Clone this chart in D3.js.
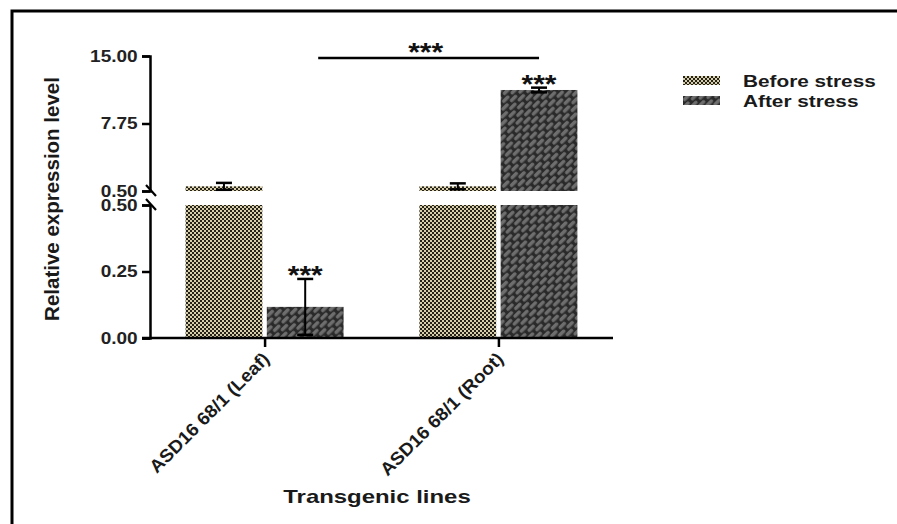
<!DOCTYPE html>
<html>
<head>
<meta charset="utf-8">
<script src="https://cdn.jsdelivr.net/npm/d3@7"></script>
<style>
  html, body { margin: 0; padding: 0; background: #fff; }
  svg { display: block; font-family: "Liberation Sans", Arial, sans-serif; font-weight: bold; }
</style>
</head>
<body>
<svg id="chart" width="897" height="524"></svg>
<script>
// Relative expression of the transgene before and after stress
const categories = ["ASD16 68/1 (Leaf)", "ASD16 68/1 (Root)"];
const seriesNames = ["Before stress", "After stress"];
const beforeMean = [1.0, 1.0];
const beforeErr = [0.37, 0.32];
const afterMean = [0.117, 11.35];
const afterErr = [0.105, 0.25];
const afterSignif = ["***", "***"];
const lowerTicks = [0, 0.25, 0.5];
const upperTicks = [0.5, 7.75, 15];
const breakValue = 0.5;

const svg = d3.select("#chart");

// Frame
svg.append("path")
  .attr("d", `M12,524 L12,11 L897,11`)
  .attr("fill", "none").attr("stroke", "#000").attr("stroke-width", 3);

// Fill patterns
const defs = svg.append("defs");
const p1 = defs.append("pattern").attr("id", "pBefore")
  .attr("patternUnits", "userSpaceOnUse").attr("width", 4).attr("height", 4);
p1.append("rect").attr("width", 4).attr("height", 4).attr("fill", "#d8cfa8");
p1.append("rect").attr("x", 0).attr("y", 0).attr("width", 2).attr("height", 2).attr("fill", "#24221a");
p1.append("rect").attr("x", 2).attr("y", 2).attr("width", 2).attr("height", 2).attr("fill", "#24221a");

const p2 = defs.append("pattern").attr("id", "pAfter")
  .attr("patternUnits", "userSpaceOnUse").attr("width", 12).attr("height", 10)
  .attr("patternTransform", "rotate(-45)");
p2.append("rect").attr("width", 12).attr("height", 10).attr("fill", "#2a2a2a");
p2.append("rect").attr("x", 1).attr("y", 1).attr("width", 9).attr("height", 3.4).attr("rx", 1.5).attr("fill", "#6e6e6e");
p2.append("rect").attr("x", 7).attr("y", 6).attr("width", 9).attr("height", 3.4).attr("rx", 1.5).attr("fill", "#6e6e6e");
p2.append("rect").attr("x", -5).attr("y", 6).attr("width", 9).attr("height", 3.4).attr("rx", 1.5).attr("fill", "#6e6e6e");
const fills = ["url(#pBefore)", "url(#pAfter)"];

// Scales: broken y axis with two linear segments
const xLeft = 150, xRight = 613;
const yLower = d3.scaleLinear().domain([0, breakValue]).range([338, 205]);
const yUpper = d3.scaleLinear().domain([breakValue, 15]).range([191, 56]);
const x0 = d3.scalePoint().domain(categories).range([xLeft, xRight]).padding(0.49);
const x1 = d3.scaleBand().domain(seriesNames).range([-79, 79]).paddingInner(0.055);

// Wide bold text helper (horizontal stretch)
function wideText(parent, x, y, size, sx, str, anchor) {
  return parent.append("text")
    .attr("transform", `translate(${x},${y}) scale(${sx},1)`)
    .attr("text-anchor", anchor || "start").attr("font-size", size).attr("fill", "#1a1a1a")
    .text(str);
}

const bars = [];
categories.forEach((c, i) => {
  bars.push({ cat: c, s: seriesNames[0], v: beforeMean[i], e: beforeErr[i], sig: null });
  bars.push({ cat: c, s: seriesNames[1], v: afterMean[i], e: afterErr[i], sig: afterSignif[i] });
});
const yOf = v => v > breakValue ? yUpper(v) : yLower(v);

const gBars = svg.append("g");
bars.forEach(b => {
  const bx = x0(b.cat) + x1(b.s);
  const bw = x1.bandwidth();
  const fill = fills[seriesNames.indexOf(b.s)];
  const lowTop = yLower(Math.min(b.v, breakValue));
  gBars.append("rect").attr("x", bx).attr("y", lowTop)
    .attr("width", bw).attr("height", yLower(0) - lowTop).attr("fill", fill);
  if (b.v > breakValue) {
    const upTop = yUpper(b.v);
    gBars.append("rect").attr("x", bx).attr("y", upTop)
      .attr("width", bw).attr("height", yUpper(breakValue) - upTop).attr("fill", fill);
  }
  // error bars
  const cx = bx + bw / 2;
  const yt = yOf(b.v + b.e);
  const yb = b.v > breakValue ? yUpper(Math.max(b.v - b.e, breakValue)) : yLower(Math.max(b.v - b.e, 0));
  const cap = 8;
  gBars.append("line").attr("x1", cx).attr("x2", cx).attr("y1", yt).attr("y2", yb)
    .attr("stroke", "#000").attr("stroke-width", 2);
  gBars.append("line").attr("x1", cx - cap).attr("x2", cx + cap).attr("y1", yt).attr("y2", yt)
    .attr("stroke", "#000").attr("stroke-width", 2.5);
  gBars.append("line").attr("x1", cx - cap).attr("x2", cx + cap).attr("y1", yb).attr("y2", yb)
    .attr("stroke", "#000").attr("stroke-width", 2.5);
  if (b.sig) wideText(svg, cx, yt + 5, 26, 1.15, b.sig, "middle").attr("fill", "#111");
});

// Y axis segments
const axisStyle = g => {
  g.selectAll("path.domain").attr("stroke", "#000").attr("stroke-width", 2.5);
  g.selectAll(".tick line").attr("stroke", "#000").attr("stroke-width", 2.5);
  g.selectAll(".tick text").attr("font-size", 17).attr("font-weight", "bold")
    .attr("fill", "#222").attr("font-family", "Liberation Sans, Arial, sans-serif")
    .attr("transform", "scale(1.12,1)");
};
svg.append("g").attr("transform", `translate(${xLeft},0)`)
  .call(d3.axisLeft(yUpper).tickValues(upperTicks).tickFormat(d3.format(".2f")).tickSizeOuter(0).tickSize(8).tickPadding(3))
  .call(axisStyle);
svg.append("g").attr("transform", `translate(${xLeft},0)`)
  .call(d3.axisLeft(yLower).tickValues(lowerTicks).tickFormat(d3.format(".2f")).tickSizeOuter(0).tickSize(8).tickPadding(3))
  .call(axisStyle);

// Break marks
[yUpper(breakValue), yLower(breakValue)].forEach(yy => {
  svg.append("line").attr("x1", xLeft - 4).attr("x2", xLeft + 6)
    .attr("y1", yy - 6).attr("y2", yy + 5)
    .attr("stroke", "#000").attr("stroke-width", 2.2);
});

// X axis
const gx = svg.append("g").attr("transform", `translate(0,${yLower(0)})`)
  .call(d3.axisBottom(x0).tickSizeOuter(0).tickSize(9).tickFormat(""));
gx.select("path.domain").attr("d", `M${xLeft - 8},0H${xRight}`).attr("stroke", "#000").attr("stroke-width", 2.5);
gx.selectAll(".tick line").attr("stroke", "#000").attr("stroke-width", 2.5);
categories.forEach(c => {
  svg.append("text")
    .attr("transform", `translate(${x0(c) + 6},${yLower(0) + 22}) rotate(-45) scale(1.06,1)`)
    .attr("text-anchor", "end").attr("font-size", 18).attr("fill", "#1a1a1a")
    .text(c);
});

// Axis titles
svg.append("text").attr("transform", `translate(59,199) rotate(-90)`)
  .attr("text-anchor", "middle").attr("font-size", 20.5).attr("fill", "#1a1a1a")
  .text("Relative expression level");
wideText(svg, 377, 503, 18, 1.33, "Transgenic lines", "middle");

// Comparison between leaf and root after stress
const lx1 = x0(categories[0]) + x1(seriesNames[1]) + x1.bandwidth() / 2 + 13;
const lx2 = x0(categories[1]) + x1(seriesNames[1]) + x1.bandwidth() / 2;
svg.append("line").attr("x1", lx1).attr("x2", lx2).attr("y1", 58).attr("y2", 58)
  .attr("stroke", "#000").attr("stroke-width", 2.5);
wideText(svg, (lx1 + lx2) / 2 - 3, 61, 26, 1.15, "***", "middle").attr("fill", "#111");

// Legend
const lg = svg.append("g").attr("transform", "translate(683,76)");
seriesNames.forEach((s, i) => {
  lg.append("rect").attr("x", 0).attr("y", i * 20).attr("width", 37).attr("height", 9).attr("fill", fills[i]);
  wideText(lg, 60, i * 20 + 11, 16, 1.3, s, "start");
});
</script>
</body>
</html>
